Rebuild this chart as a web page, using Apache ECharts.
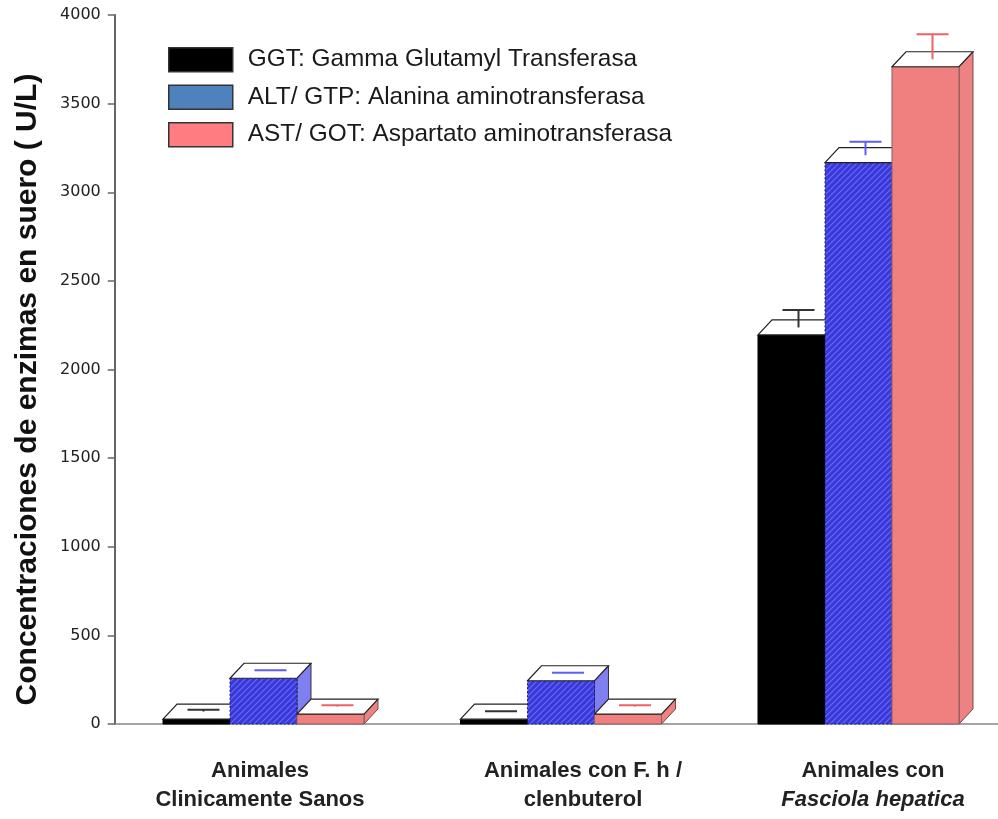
<!DOCTYPE html>
<html>
<head>
<meta charset="utf-8">
<script src="https://cdn.jsdelivr.net/npm/echarts@6/dist/echarts.min.js"></script>
<style>html,body{margin:0;padding:0;background:#fff;overflow:hidden}#c{width:998px;height:819px}</style>
</head>
<body>
<div id="c"></div>
<script>
const categories = ['Animales\nClinicamente Sanos', 'Animales con F. h /\nclenbuterol', 'Animales con\nFasciola hepatica'];
const seriesNames = ['GGT: Gamma Glutamyl Transferasa', 'ALT/ GTP: Alanina aminotransferasa', 'AST/ GOT: Aspartato aminotransferasa'];
const ggtValues = [28, 27, 2195];
const altValues = [258, 244, 3167];
const astValues = [56, 56, 3708];
const ggtErrors = [10, 2, 99];
const altErrors = [3, 3, 75];
const astErrors = [8, 8, 141];
const yMin = 0, yMax = 4000, yStep = 500;
const yAxisTitle = 'Concentraciones de enzimas en suero ( U/L)';

function hatchCanvas() {
  const n = 6;
  const cv = document.createElement('canvas');
  cv.width = n; cv.height = n;
  const g = cv.getContext('2d');
  g.fillStyle = '#3838dc';
  g.fillRect(0, 0, n, n);
  g.strokeStyle = '#6a6af0';
  g.lineWidth = 1.2;
  g.beginPath();
  g.moveTo(0, n); g.lineTo(n, 0);
  g.moveTo(-1, 1); g.lineTo(1, -1);
  g.moveTo(n - 1, n + 1); g.lineTo(n + 1, n - 1);
  g.stroke();
  return cv;
}

const DX = 14, DY = 15;
const styles = [
  { front: '#000', frontStroke: '#000', dash: null, side: '#222', sideStroke: '#000', err: '#333', legend: '#000' },
  { front: { image: hatchCanvas(), repeat: 'repeat' }, frontStroke: '#1a1a70', dash: [2, 2], side: '#7f7ff2', sideStroke: '#333', err: '#5d5df2', legend: '#4f81bd' },
  { front: '#f08080', frontStroke: '#8a6060', dash: null, side: '#ec8282', sideStroke: '#6e4a4a', err: '#f06262', legend: '#ff7c80' }
];

function makeRender(si) {
  const st = styles[si];
  return function (params, api) {
    const ci = api.value(0), v = api.value(1), e = api.value(2);
    const top = api.coord([ci, v]);
    const base = api.coord([ci, 0]);
    const errTop = api.coord([ci, v + e]);
    const bw = api.size([1, 0])[0] * 0.2252;
    const x0 = top[0] - 1.5 * bw + si * bw, x1 = x0 + bw;
    const yt = top[1], yb = base[1];
    const xc = x0 + bw / 2 + DX / 2, y1 = yt - DY / 2, y2 = errTop[1] - DY / 2;
    return {
      type: 'group',
      children: [
        { type: 'polygon', shape: { points: [[x1, yt], [x1 + DX, yt - DY], [x1 + DX, yb - DY], [x1, yb]] },
          style: { fill: st.side, stroke: st.sideStroke, lineWidth: 1 } },
        { type: 'rect', shape: { x: x0, y: yt, width: bw, height: yb - yt },
          style: { fill: st.front, stroke: st.frontStroke, lineWidth: 1, lineDash: st.dash } },
        { type: 'polygon', shape: { points: [[x0, yt], [x0 + DX, yt - DY], [x1 + DX, yt - DY], [x1, yt]] },
          style: { fill: '#fff', stroke: '#222', lineWidth: 1.2 } },
        { type: 'line', shape: { x1: xc, y1: y1, x2: xc, y2: y2 }, style: { stroke: st.err, lineWidth: 2 } },
        { type: 'line', shape: { x1: xc - 16, y1: y2, x2: xc + 16, y2: y2 }, style: { stroke: st.err, lineWidth: 2 } }
      ]
    };
  };
}

const valueSets = [ggtValues, altValues, astValues];
const errorSets = [ggtErrors, altErrors, astErrors];

const series = seriesNames.map((name, si) => ({
  name: name,
  type: 'custom',
  renderItem: makeRender(si),
  itemStyle: { color: styles[si].legend },
  encode: { x: 0, y: 1 },
  clip: false,
  data: categories.map((c, ci) => [ci, valueSets[si][ci], errorSets[si][ci]])
}));

const labelFont = { fontFamily: 'Liberation Sans', fontWeight: 'bold', fontSize: 22, color: '#222', lineHeight: 29 };

const chart = echarts.init(document.getElementById('c'));
chart.setOption({
  animation: false,
  backgroundColor: '#fff',
  grid: { left: 114.75, width: 892.5, top: 15, height: 709, containLabel: false, outerBoundsMode: 'none' },
  legend: {
    orient: 'vertical', left: 168, top: 47, padding: 0,
    itemWidth: 64, itemHeight: 24, itemGap: 12, icon: 'rect',
    itemStyle: { borderColor: '#333', borderWidth: 1.5 },
    textStyle: { fontFamily: 'Liberation Sans', fontSize: 24.4, color: '#1a1a1a', padding: [0, 0, 0, 10] },
    data: seriesNames
  },
  xAxis: {
    type: 'category',
    data: categories,
    axisLine: { lineStyle: { color: '#888', width: 1.5 } },
    axisTick: { alignWithLabel: true, length: 6, lineStyle: { color: '#999' } },
    axisLabel: {
      margin: 32,
      interval: 0,
      formatter: function (val, idx) {
        return val.split('\n').map((l, li) => '{g' + idx + ((idx === 2 && li === 1) ? 'i' : '') + '|' + l + '}').join('\n');
      },
      rich: {
        g0: Object.assign({ padding: [0, 7, 0, 0] }, labelFont),
        g1: Object.assign({ padding: [0, 0, 0, 44] }, labelFont),
        g2: Object.assign({ padding: [0, 0, 0, 29] }, labelFont),
        g2i: Object.assign({ padding: [0, 0, 0, 29], fontStyle: 'italic' }, labelFont)
      }
    }
  },
  yAxis: {
    type: 'value', min: yMin, max: yMax, interval: yStep,
    name: yAxisTitle, nameLocation: 'middle', nameGap: 72, nameRotate: 90,
    nameTextStyle: { fontFamily: 'Liberation Sans', fontWeight: 'bold', fontSize: 30, color: '#111', padding: [0, 40, 0, 0] },
    axisLine: { show: true, lineStyle: { color: '#666', width: 2 } },
    axisTick: { show: true, length: 7, lineStyle: { color: '#666', width: 1.5 } },
    axisLabel: { margin: 14, fontFamily: 'DejaVu Sans', fontSize: 16, color: '#222', formatter: function (v) { return String(v); } },
    splitLine: { show: false }
  },
  series: series
});
</script>
</body>
</html>
